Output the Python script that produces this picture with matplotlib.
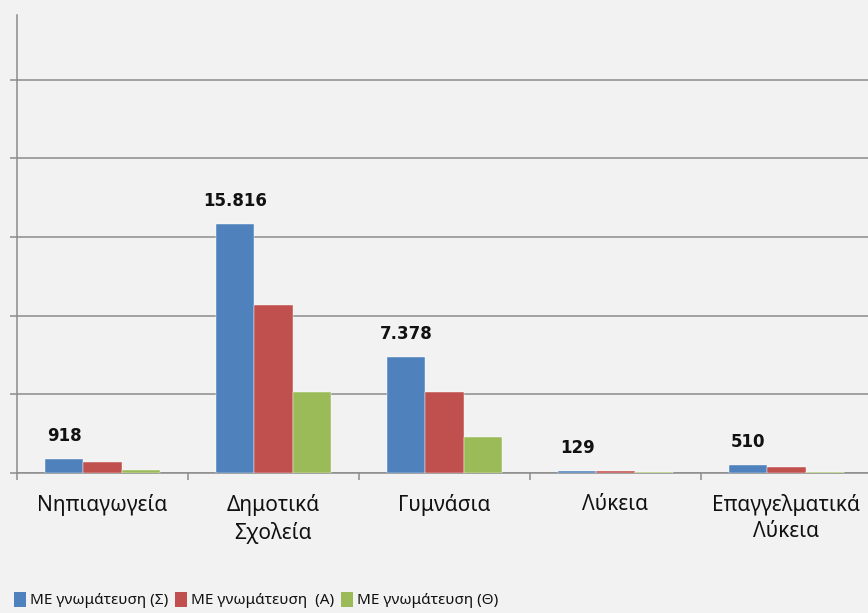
import numpy as np
import matplotlib.pyplot as plt
from matplotlib.patches import Patch

plt.rcParams['font.family'] = ['Noto Sans', 'DejaVu Sans']

# Κατηγορίες σχολείων και τιμές ανά σειρά
categories = ['Νηπιαγωγεία', 'Δημοτικά\nΣχολεία', 'Γυμνάσια', 'Λύκεια', 'Επαγγελματικά\nΛύκεια']
series_names = ['ΜΕ γνωμάτευση (Σ)', 'ΜΕ γνωμάτευση  (Α)', 'ΜΕ γνωμάτευση (Θ)']
vals_s = [918, 15816, 7378, 129, 510]
vals_a = [680, 10650, 5160, 100, 370]
vals_th = [220, 5160, 2260, 80, 80]
labels_s = ['918', '15.816', '7.378', '129', '510']

colors = ['#4f81bd', '#c0504d', '#9bbb59']
bg = '#f2f2f2'
grid_c = '#8c8c8c'

fig = plt.figure(figsize=(8.68, 6.13), dpi=100, facecolor=bg)
ax = fig.add_axes([17 / 868, 140 / 613, 855 / 868, 458 / 613])
ax.set_facecolor(bg)

x = np.arange(len(categories))
w = 0.223
for i, vals in enumerate([vals_s, vals_a, vals_th]):
    ax.bar(x + (i - 1) * w, vals, width=w, color=colors[i], zorder=3,
           edgecolor='white', linewidth=0.3)

for xi, v, lab in zip(x, vals_s, labels_s):
    ax.annotate(lab, (xi - w, v), xytext=(0, 23), textcoords='offset pixels',
                ha='center', va='center', fontsize=12, fontweight='bold',
                family='DejaVu Sans', color='#111111')

ax.set_xlim(-0.5, len(categories) - 0.5)
ax.set_ylim(0, 29100)
ax.set_yticks(np.arange(0, 26000, 5000))
ax.set_yticklabels([])
ax.yaxis.grid(True, color=grid_c, linewidth=1.1, zorder=0)
ax.tick_params(axis='y', length=5, color=grid_c, width=1.1)

ax.set_xticks(np.arange(-0.5, len(categories), 1.0))
ax.set_xticklabels([])
ax.set_xticks(x, minor=True)
ax.set_xticklabels(categories, minor=True, fontsize=15, color='#111111', linespacing=1.35)
ax.tick_params(axis='x', which='major', length=5, color=grid_c, width=1.1, direction='out')
ax.tick_params(axis='x', which='minor', length=0, pad=15)

for s in ['top', 'right']:
    ax.spines[s].set_visible(False)
for s in ['left', 'bottom']:
    ax.spines[s].set_color(grid_c)
    ax.spines[s].set_linewidth(1.1)

handles = [Patch(facecolor=c, edgecolor='none') for c in colors]
fig.legend(handles, series_names, loc='center left', bbox_to_anchor=(0.0, 13 / 613),
           ncol=3, frameon=False, fontsize=11, handlelength=0.8, handleheight=1.15,
           handletextpad=0.25, columnspacing=0.45, labelcolor='#111111')

fig.savefig('out.png', dpi=100, facecolor=bg)
